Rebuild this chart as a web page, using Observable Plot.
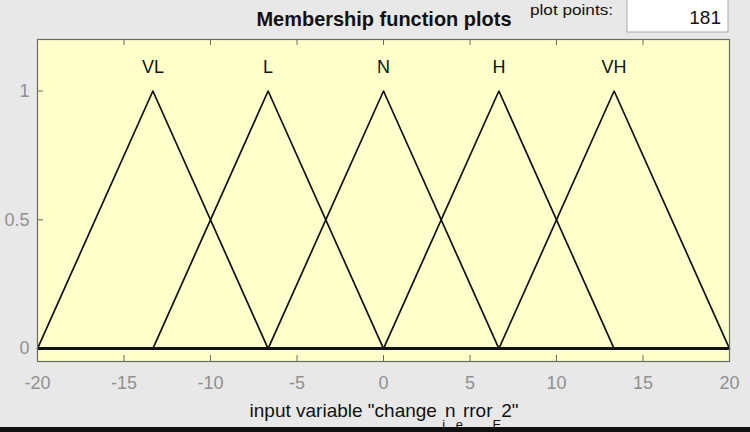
<!DOCTYPE html>
<html>
<head>
<meta charset="utf-8">
<script src="https://cdn.jsdelivr.net/npm/d3@7"></script>
<script src="https://cdn.jsdelivr.net/npm/@observablehq/plot@0.6"></script>
<style>
  html, body { margin: 0; padding: 0; background: #e8e8e8; overflow: hidden; }
  #chart svg { display: block; }
</style>
</head>
<body>
<div id="chart"></div>
<script>
// Membership functions (triangles): left foot, peak, right foot
const mfNames = ["VL", "L", "N", "H", "VH"];
const leftFeet = [-20, -13.33, -6.67, 0, 6.67];
const peaks = [-13.33, -6.67, 0, 6.67, 13.33];
const rightFeet = [-6.67, 0, 6.67, 13.33, 20];
const peakValue = 1;
const xTicks = [-20, -15, -10, -5, 0, 5, 10, 15, 20];
const yTicks = [0, 0.5, 1];
const yTickLabels = ["0", "0.5", "1"];
const xDomain = [-20, 20];
const yDomain = [-0.05, 1.2];
const titleText = "Membership function plots";
const plotPointsLabel = "plot points:";
const plotPointsValue = "181";

const FONT = "'Liberation Sans', Arial, sans-serif";

const lineData = mfNames.flatMap((name, i) => [
  {name, x: leftFeet[i], y: 0},
  {name, x: peaks[i], y: peakValue},
  {name, x: rightFeet[i], y: 0}
]);
const labelData = mfNames.map((name, i) => ({name, x: peaks[i], y: peakValue}));

const xTickLen = (yDomain[1] - yDomain[0]) * 6 / 323;
const yTickLen = (xDomain[1] - xDomain[0]) * 6 / 692;

const plot = Plot.plot({
  width: 750,
  height: 432,
  marginLeft: 37,
  marginRight: 21,
  marginTop: 39,
  marginBottom: 71,
  style: {background: "#e8e8e8", fontFamily: FONT},
  x: {domain: xDomain},
  y: {domain: yDomain},
  marks: [
    Plot.frame({fill: "#ffffcc", stroke: "none"}),
    // inward tick marks
    Plot.ruleX(xTicks, {y1: yDomain[0], y2: yDomain[0] + xTickLen, stroke: "#6a6a60", strokeWidth: 1}),
    Plot.ruleX(xTicks, {y1: yDomain[1], y2: yDomain[1] - xTickLen, stroke: "#6a6a60", strokeWidth: 1}),
    Plot.ruleY(yTicks, {x1: xDomain[0], x2: xDomain[0] + yTickLen, stroke: "#6a6a60", strokeWidth: 1}),
    Plot.axisX(xTicks, {anchor: "bottom", tickSize: 0, tickPadding: 15, fontSize: 18, fill: "#909090", label: null, tickFormat: d => String(d).replace("−", "-")}),
    Plot.axisY(yTicks, {anchor: "left", tickSize: 0, tickPadding: 8, fontSize: 18, fill: "#909090", label: null, tickFormat: (d, i) => yTickLabels[i]}),
    Plot.ruleY([0], {stroke: "#111", strokeWidth: 3}),
    Plot.line(lineData, {x: "x", y: "y", z: "name", stroke: "#111", strokeWidth: 1.7}),
    Plot.text(labelData, {x: "x", y: "y", text: "name", dy: -24, fontSize: 18, fill: "#111"}),
    Plot.frame({stroke: "#6a6a60", strokeWidth: 1.2})
  ]
});

document.getElementById("chart").appendChild(plot);

// Title, plot-points field, axis label and bottom bar (annotations)
const svg = d3.select(plot);
svg.append("text")
  .attr("x", 384).attr("y", 26)
  .attr("text-anchor", "middle")
  .attr("font-family", FONT).attr("font-size", 21).attr("font-weight", "bold")
  .attr("textLength", 255).attr("lengthAdjust", "spacingAndGlyphs")
  .attr("fill", "#111")
  .text(titleText);
svg.append("text")
  .attr("x", 530).attr("y", 15)
  .attr("text-anchor", "start")
  .attr("font-family", FONT).attr("font-size", 15)
  .attr("textLength", 83).attr("lengthAdjust", "spacingAndGlyphs")
  .attr("fill", "#111")
  .text(plotPointsLabel);
svg.append("rect")
  .attr("x", 627).attr("y", -2).attr("width", 101).attr("height", 34)
  .attr("fill", "#ffffff").attr("stroke", "#a8a8a8");
svg.append("text")
  .attr("x", 721).attr("y", 24)
  .attr("text-anchor", "end")
  .attr("font-family", FONT).attr("font-size", 19)
  .attr("fill", "#111")
  .text(plotPointsValue);

const xl = svg.append("text")
  .attr("x", 384).attr("y", 417)
  .attr("text-anchor", "middle")
  .attr("font-family", FONT).attr("font-size", 19)
  .attr("fill", "#111");
xl.append("tspan").text("input variable \"change ");
xl.append("tspan").attr("font-size", 13).attr("dy", 12).text("i");
xl.append("tspan").attr("dy", -12).text("n");
xl.append("tspan").attr("font-size", 13).attr("dy", 12).text("e");
xl.append("tspan").attr("dy", -12).text("rror");
xl.append("tspan").attr("font-size", 13).attr("dy", 12).text("E");
xl.append("tspan").attr("dy", -12).text("2\"");

svg.append("rect")
  .attr("x", 0).attr("y", 427).attr("width", 750).attr("height", 5)
  .attr("fill", "#111");
</script>
</body>
</html>
